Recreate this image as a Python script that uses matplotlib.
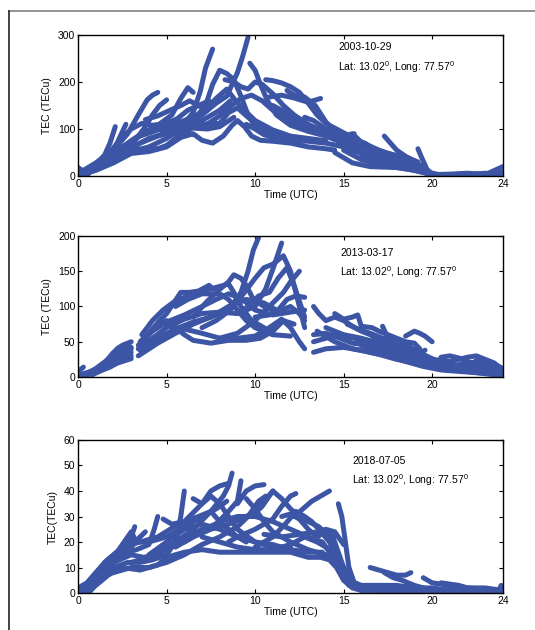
import matplotlib
matplotlib.use('Agg')
import matplotlib.pyplot as plt
from matplotlib.lines import Line2D

plt.rcParams['font.family'] = ['Liberation Sans', 'DejaVu Sans']
plt.rcParams['mathtext.default'] = 'regular'
plt.rcParams['font.size'] = 7.5

# TEC arcs: each arc is a list of (time UTC, TEC) points
arcs_2003 = [
    [(0, 8), (0.5, 14), (1, 25), (1.5, 45), (1.8, 70), (2.1, 105)],
    [(0, 3), (0.7, 15), (1.5, 35), (2.2, 70), (2.7, 110)],
    [(0.3, 12), (1, 28), (2, 55), (2.8, 90), (3.4, 130), (3.9, 162), (4.2, 172), (4.5, 178)],
    [(0, 0), (1, 20), (2, 42), (3, 65), (3.7, 100), (4.2, 130), (4.6, 150), (5, 162)],
    [(0.5, 10), (1.5, 32), (2.5, 62), (3.5, 88), (4.5, 108), (5.3, 130), (5.8, 165), (6.2, 188), (6.5, 178)],
    [(1, 22), (2, 45), (3, 75), (4, 98), (5, 108), (6, 112), (6.5, 135), (6.9, 180), (7.2, 230), (7.6, 270)],
    [(2.5, 60), (3.5, 85), (4.5, 98), (5.5, 105), (6.5, 118), (7.2, 150), (7.6, 195), (8, 225), (8.4, 218),
     (8.8, 205), (9.2, 170), (9.6, 130), (10, 105), (10.5, 90)],
    [(3, 52), (4, 62), (5, 80), (6, 105), (7, 130), (7.8, 155), (8.4, 170), (9, 220), (9.3, 255), (9.6, 295)],
    [(0, 0), (1, 12), (2, 28), (3, 48), (4, 52), (5, 62), (5.8, 82), (6.5, 90), (7, 76), (7.6, 70), (8.2, 85),
     (8.7, 108), (9, 118), (9.4, 105), (9.8, 85), (10.3, 76), (11, 74), (12, 70), (13, 62), (14, 58), (14.5, 55)],
    [(4, 92), (5, 108), (6, 118), (7, 135), (7.8, 165), (8.4, 185), (8.9, 160), (9.4, 140), (10, 118), (11, 98),
     (12, 85), (13, 80), (14, 75)],
    [(9.7, 240), (10, 225), (10.3, 195), (10.7, 160), (11.2, 130), (12, 108), (13, 95), (14, 85), (15, 70), (16, 55)],
    [(8.3, 205), (8.8, 200), (9.2, 190), (9.6, 185), (10, 200), (10.4, 195), (11, 175), (11.6, 150), (12.2, 130),
     (13, 110), (14, 92), (15, 78), (16, 62), (17, 45), (18, 35)],
    [(10.6, 205), (11, 203), (11.5, 198), (12, 190), (12.5, 178), (13, 155), (13.5, 130), (14, 112), (15, 92),
     (16, 72), (17, 52), (18, 38), (19, 22)],
    [(10.8, 168), (11.5, 172), (12.2, 166), (13, 157), (13.7, 165)],
    [(7.2, 108), (8, 128), (8.6, 148), (9.2, 165), (9.8, 172), (10.4, 160), (11, 140), (12, 118), (13, 102),
     (14, 90), (15, 82), (15.6, 90)],
    [(17.3, 85), (17.6, 72), (18, 55), (18.5, 42), (19, 32), (19.5, 18), (20, 5)],
    [(19.2, 58), (19.4, 40), (19.7, 15), (20, 2), (21, 3), (22, 4), (23, 4), (24, 8)],
    [(13.7, 105), (14.3, 92), (15, 85), (15.5, 90), (16, 72), (17, 55), (18, 42), (19, 28), (19.8, 10)],
    [(15, 55), (16, 35), (17, 25), (18, 18), (19, 12), (20, 3), (21, 4), (22, 6), (23, 3), (24, 20)],
    [(14.5, 50), (15.5, 28), (16.5, 20), (18, 18), (19, 14), (20, 2), (21.5, 1), (23, 6), (24, 2)],
    [(2.5, 82), (3, 100), (3.6, 112), (4.2, 108), (5, 112), (5.6, 122), (6.2, 140), (6.8, 150), (7.4, 160)],
    [(4.4, 100), (5.2, 95), (6, 100), (7, 110), (8, 112), (8.5, 135), (9, 145), (9.6, 125), (10.2, 108),
     (11, 90), (12, 80), (12.7, 75)],
    [(11.8, 182), (12.2, 172), (12.8, 168), (13.4, 150), (14, 115), (14.5, 95), (15.2, 80)],
    [(0, 18), (0.3, 10), (0.6, 5)],
    [(13.3, 98), (13.6, 100), (14, 95), (14.6, 82), (15.3, 65), (16, 50), (16.8, 40), (17.5, 35), (18.2, 30)],
    [(3.2, 55), (4, 60), (4.5, 58), (5, 65), (6, 95), (6.5, 88)],
    [(0.2, 5), (1, 18), (2, 38), (3, 60), (4, 80), (5, 92), (6, 100), (7, 118), (8, 140), (8.6, 160)],
    [(1.5, 30), (2.5, 50), (3.5, 70), (4.5, 85), (5.5, 95), (6.5, 102), (7.3, 100), (8, 105), (8.8, 125)],
    [(3.8, 120), (4.5, 128), (5.2, 140), (5.8, 150), (6.3, 160), (6.8, 150), (7.3, 140)],
    [(9.5, 110), (10, 100), (10.5, 88), (11, 82), (12, 76), (13, 74), (14, 70), (15, 62), (16, 48), (17, 30),
     (18, 20), (19, 12), (20, 4)],
    [(11, 150), (11.5, 140), (12, 125), (12.8, 110), (13.5, 100), (14.5, 88), (15.5, 75), (16.5, 60), (17.5, 48),
     (18.5, 40), (19.2, 30)],
    [(12.8, 125), (13.3, 118), (14, 100), (14.8, 90), (15.5, 78), (16.2, 70), (16.8, 55)],
    [(16, 40), (17, 30), (18, 25), (19, 20), (19.8, 8), (20.5, 2), (22, 2), (23, 1), (24, 3)],
]

arcs_2013 = [
    [(0, 8), (0.3, 14)],
    [(0.3, 2), (1, 12), (1.7, 25), (2.2, 40), (2.5, 45), (3, 50)],
    [(0.5, 2), (1.2, 12), (2, 28), (2.6, 38), (3, 42)],
    [(0.8, 3), (1.5, 12), (2.2, 22), (2.8, 30), (3, 35)],
    [(0, 0), (1, 8), (2, 18), (3, 26)],
    [(1.5, 20), (2, 35), (2.5, 38), (2.9, 44)],
    [(0.2, 4), (1, 10), (1.8, 20), (2.4, 30), (3, 40)],
    [(1, 6), (1.8, 14), (2.5, 24), (3, 30)],
    [(3.4, 30), (4.5, 48), (5.5, 62), (6.5, 75), (7.5, 85), (8.5, 95), (9.2, 120), (9.6, 150), (9.9, 180), (10.2, 198)],
    [(3.4, 40), (4.2, 55), (5, 70), (6, 82), (7, 90), (8, 92), (9, 90), (10, 100), (10.6, 125), (11.1, 160), (11.5, 190)],
    [(3.5, 50), (4, 62), (4.6, 80), (5, 90), (5.4, 105), (5.8, 120), (6.3, 120), (6.8, 122), (7.4, 130), (7.6, 125)],
    [(3.6, 60), (4.2, 80), (4.8, 95), (5.5, 108), (6.5, 118), (7.5, 125), (8.5, 132), (8.8, 120), (9.2, 100),
     (9.8, 80), (10.5, 70), (11, 60)],
    [(4.2, 68), (5, 80), (5.5, 70), (6, 60), (6.5, 52), (7.5, 48), (8.5, 52), (9.5, 52), (10.3, 55), (11, 65),
     (11.6, 80), (12.2, 75)],
    [(5, 72), (6, 68), (7, 62), (8, 55), (9, 55), (10, 58), (10.8, 70), (11.5, 82), (12, 70), (12.5, 50), (12.8, 40)],
    [(5.5, 100), (6.2, 110), (7, 118), (8, 118), (8.5, 110), (9, 95), (9.5, 80), (10, 70), (11, 60), (12, 58)],
    [(6.5, 85), (7.2, 105), (7.8, 120), (8.5, 135), (8.8, 145), (9.2, 140), (9.5, 130), (9.9, 110), (10.5, 100), (11, 95)],
    [(7, 70), (7.8, 80), (8.6, 95), (9.4, 120), (10, 140), (10.5, 155), (11, 160), (11.6, 172), (12, 150),
     (12.4, 110), (12.8, 70)],
    [(8, 55), (9, 62), (10, 80), (10.8, 100), (11.6, 120), (12, 135), (12.5, 150)],
    [(9, 90), (9.6, 100), (10.2, 115), (10.8, 120), (11.3, 140), (11.8, 155), (12.2, 130), (12.6, 100), (12.8, 85)],
    [(10, 85), (10.8, 88), (11.3, 95), (11.8, 110), (12.3, 115), (12.8, 113)],
    [(11.5, 95), (12, 100), (12.5, 90), (12.8, 80)],
    [(3.5, 38), (4.5, 55), (5.5, 68), (6.5, 78), (7.5, 85), (8.5, 100), (9.5, 110), (10.5, 105), (11.2, 95)],
    [(3.4, 45), (4.2, 65), (5, 78), (6, 88), (7, 100), (7.8, 110), (8.5, 118), (9.2, 112), (10, 95), (11, 88),
     (12, 92), (12.8, 95)],
    [(13.3, 100), (13.6, 90), (14, 80), (14.5, 85), (15, 80), (15.5, 72), (16, 65), (16.5, 60), (17, 52), (18, 40),
     (19, 30), (20, 25), (21, 18), (22, 14), (23, 10), (24, 6)],
    [(13.3, 50), (14, 55), (14.5, 62), (15, 58), (15.6, 55), (16, 50), (17, 40), (18, 32), (19, 25), (20, 20),
     (21, 15), (22, 12), (23, 8), (24, 5)],
    [(13.3, 35), (14, 40), (15, 42), (16, 38), (17, 32), (18, 25), (19, 20), (20, 14), (21, 10), (22, 8), (23, 5), (24, 3)],
    [(14.5, 90), (15, 82), (15.5, 85), (15.8, 88), (16, 72), (16.6, 70), (17, 65), (17.5, 60), (18, 55), (18.5, 50),
     (19, 48), (19.3, 40)],
    [(17.2, 72), (17.5, 55), (18, 45), (18.5, 38), (19, 32), (20, 25), (21, 22), (22, 28), (22.5, 30), (23, 25),
     (23.5, 20), (24, 10)],
    [(18.5, 58), (19, 65), (19.3, 62), (19.6, 58), (20, 50)],
    [(14, 70), (15, 60), (16, 55), (17, 48), (18, 40), (19, 35), (20, 22), (21, 15), (22, 20), (23, 18), (24, 8)],
    [(13.5, 65), (14.5, 50), (15.5, 40), (16.5, 35), (17.5, 30), (18.5, 22), (19.5, 15), (20.5, 10), (21.5, 8),
     (22.5, 6), (24, 2)],
    [(20.5, 28), (21, 30), (21.5, 27), (22, 22), (23, 15), (24, 8)],
    [(13.3, 60), (14, 62), (14.8, 55), (15.5, 48), (16.5, 45), (17.5, 42), (18.3, 35), (19, 30), (19.6, 38)],
    [(15.2, 75), (15.8, 68), (16.5, 62), (17.2, 55), (18, 48), (18.8, 42), (19.5, 32), (20.5, 20), (21.5, 12),
     (22.5, 10), (23.5, 8), (24, 4)],
    [(16, 45), (17, 38), (18, 30), (19, 22), (20, 15), (21, 12), (22, 15), (22.6, 25), (23.2, 22), (24, 12)],
]

arcs_2018 = [
    [(0, 2), (0.5, 4), (1, 8), (1.5, 12), (2, 15), (2.5, 18), (3, 22), (3.2, 26)],
    [(0, 0), (0.8, 3), (1.5, 8), (2, 12), (2.5, 16), (3, 18), (3.5, 22), (3.8, 24)],
    [(0.3, 0), (1, 4), (1.5, 9), (2, 13), (2.7, 16), (3.3, 17), (4, 19), (4.3, 25), (4.5, 30)],
    [(0.6, 0), (1.2, 5), (2, 10), (2.8, 12), (3.5, 12), (4.2, 13), (5, 15), (5.5, 20), (5.8, 30), (6, 40)],
    [(0.5, 0), (1, 3), (1.7, 7), (2.5, 10), (3.5, 9), (4.5, 11), (5, 14), (6, 16), (7, 17), (8, 16), (9, 16),
     (10, 16), (11, 16), (12, 16), (13, 14), (13.7, 14), (14.2, 13), (14.6, 10), (15, 5), (15.5, 2), (16, 1)],
    [(1, 5), (2, 12), (3, 15), (3.7, 14), (4.5, 15), (5.5, 20), (6.5, 25), (7.5, 32), (8.2, 38), (8.5, 42), (8.7, 47)],
    [(2.5, 18), (3.5, 20), (4.5, 22), (5.2, 25), (6, 28), (7, 35), (7.5, 40), (8, 42), (8.5, 43)],
    [(4.8, 29), (5.3, 27), (6, 28), (6.8, 30), (7.5, 32), (8, 28), (8.5, 25), (9, 22), (9.5, 20)],
    [(3, 12), (4, 14), (5, 18), (6, 22), (7, 25), (7.8, 27), (8.5, 32), (9, 36), (9.2, 44)],
    [(6.5, 37), (7, 35), (7.5, 38), (8, 35), (8.5, 30), (9, 25), (10, 20), (11, 18), (12, 18)],
    [(5.5, 18), (6.5, 22), (7.5, 25), (8.5, 27), (9.5, 30), (10, 32), (10.5, 36), (11, 40)],
    [(9, 35), (9.5, 40), (10, 42), (10.5, 42.5)],
    [(9.5, 37), (10, 33), (10.5, 28), (11, 24), (11.5, 22), (12, 20), (13, 17), (14, 15), (14.8, 10), (15.2, 5)],
    [(8.5, 20), (9, 22), (10, 25), (11, 29), (11.5, 34), (12, 38), (12.3, 39)],
    [(6, 20), (7, 24), (8, 28), (9, 30), (10, 30), (11, 28), (12, 25), (13, 22), (13.8, 20), (14.3, 15), (14.8, 8), (15.3, 3)],
    [(10, 18), (11, 22), (11.7, 27), (12.3, 32), (12.8, 30), (13.2, 28), (13.6, 25), (14.2, 20), (14.7, 12), (15.3, 5)],
    [(12.2, 30), (12.7, 33), (13.2, 36), (13.7, 38), (14.2, 40)],
    [(10.5, 23), (11.5, 22), (12.5, 23), (13.5, 24), (14, 25), (14.5, 24), (15, 19)],
    [(13, 28), (13.6, 26), (14.2, 22), (14.6, 15), (15, 10), (15.5, 4), (16, 2), (17, 1), (18, 1)],
    [(14.7, 35), (14.9, 30), (15.1, 20), (15.3, 10), (15.6, 4), (16.2, 2), (17, 1)],
    [(16.5, 10), (17, 9), (17.5, 8), (18, 7), (18.5, 7), (18.8, 8)],
    [(17.3, 8), (17.8, 6), (18.3, 5), (19, 3), (20, 1), (21, 1), (22, 1), (23, 1)],
    [(19.5, 6), (20, 4), (21, 3), (22, 2), (23, 2), (24, 1)],
    [(20.5, 4), (21, 3.5), (21.5, 3), (22, 2), (23, 1.5), (23.5, 1)],
    [(15.5, 3), (16.5, 2), (18, 2), (19.5, 1), (21, 0.5), (23, 0.3), (24, 0)],
    [(23.7, 0), (23.9, 3), (24, 1)],
    [(9.8, 30), (10.4, 34), (11, 40), (11.5, 37), (12, 33), (12.5, 30), (13, 28)],
    [(1.5, 12), (2.2, 16), (2.8, 22), (3, 24), (3.3, 20)],
    [(0.2, 1), (1, 6), (2, 14), (3, 20), (4, 20), (5, 22), (6, 26), (7, 30), (7.8, 33), (8.4, 36)],
    [(2, 8), (3, 10), (4, 10), (5, 12), (6, 15), (7, 19), (8, 22), (9, 26), (9.6, 30), (10.2, 36), (10.6, 38)],
    [(7, 22), (8, 20), (9, 18), (10, 17), (11, 17), (12, 19), (12.8, 22), (13.5, 20), (14, 18), (14.5, 14),
     (15, 8), (15.5, 3)],
    [(4, 15), (5, 20), (6, 25), (7, 27), (8, 25), (9, 22), (10, 20), (11, 19), (12, 17), (13, 16), (13.8, 16)],
    [(11.5, 30), (12, 31), (12.5, 29), (13, 25), (13.5, 22), (14, 24), (14.4, 22), (14.8, 14), (15.2, 6), (15.8, 2)],
    [(15.3, 5), (16, 3), (17, 3), (18, 3), (19, 2), (20, 2), (21, 1), (22, 1), (23, 1), (24, 1)],
    [(16, 1), (17.5, 1), (19, 0.5), (20.5, 1.5), (22, 0.5), (23.5, 0.5)],
]

dates = ['2003-10-29', '2013-03-17', '2018-07-05']
location = 'Lat: 13.02$^0$, Long: 77.57$^0$'
ylabels = ['TEC (TECu)', 'TEC (TECu)', 'TEC(TECu)']
ylims = [300, 200, 60]
yticks = [[0, 100, 200, 300], [0, 50, 100, 150, 200], [0, 10, 20, 30, 40, 50, 60]]
xticks = [[0, 5, 10, 15, 20, 24], [0, 5, 10, 15, 20], [0, 5, 10, 15, 20, 24]]
all_arcs = [arcs_2003, arcs_2013, arcs_2018]

line_color = '#3c55a5'

fig = plt.figure(figsize=(5.35, 6.3), dpi=100)

# axes boxes in figure fractions [left, bottom, width, height]
boxes = [[0.146, 0.7206, 0.794, 0.2238],
         [0.146, 0.4016, 0.794, 0.2238],
         [0.146, 0.0587, 0.794, 0.2429]]
text_pos = [(0.612, 0.915, 0.775), (0.617, 0.88, 0.745), (0.645, 0.86, 0.74)]

for i in range(3):
    ax = fig.add_axes(boxes[i])
    for arc in all_arcs[i]:
        t = [p[0] for p in arc]
        v = [p[1] for p in arc]
        ax.plot(t, v, color=line_color, lw=3.6, solid_capstyle='round', solid_joinstyle='round')
    ax.set_xlim(0, 24)
    ax.set_ylim(0, ylims[i])
    ax.set_xticks(xticks[i])
    ax.set_yticks(yticks[i])
    ax.tick_params(direction='in', top=True, right=True, length=3, width=0.8, pad=2, labelsize=7.5)
    for s in ax.spines.values():
        s.set_linewidth(1.0)
    ax.set_xlabel('Time (UTC)', labelpad=1)
    ax.set_ylabel(ylabels[i], labelpad=4)
    x0, y1, y2 = text_pos[i]
    ax.text(x0, y1, dates[i], transform=ax.transAxes, va='center', ha='left', fontsize=7.5)
    ax.text(x0, y2, location, transform=ax.transAxes, va='center', ha='left', fontsize=7.5)

# page frame around the figure
fig.add_artist(Line2D([9 / 535, 1], [1 - 11 / 630, 1 - 11 / 630], color='#808080', lw=1.2))
fig.add_artist(Line2D([9 / 535, 9 / 535], [0, 1 - 11 / 630], color='#222222', lw=1.2))

fig.savefig('out.png', dpi=100)
